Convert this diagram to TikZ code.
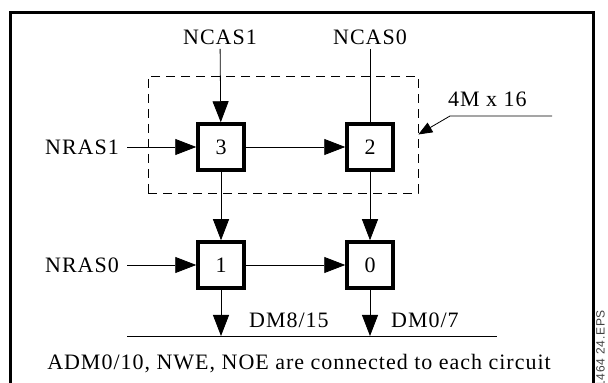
\documentclass[tikz,border=0pt]{standalone}
\usepackage{fontspec}
\setmainfont[LetterSpace=4.5]{Liberation Serif}
\setsansfont[LetterSpace=6]{Liberation Sans}
\usetikzlibrary{arrows.meta, positioning}
\tikzset{chipnode/.style={draw=black, line width=3.5pt, minimum size=46pt, inner sep=0pt, font=\fontsize{22}{26}\selectfont},
  signode/.style={inner sep=6pt, font=\fontsize{22}{26}\selectfont}}

\begin{document}
\begin{tikzpicture}[
        x=1pt, y=1pt,
        line join=miter,
        wire/.style={line width=0.8pt},
        sig/.style={wire, -{Triangle[length=21pt, width=16pt]}},
        tagarrow/.style={wire, -{Triangle[length=14pt, width=11pt]}}
    ]
        \useasboundingbox (0,0) rectangle (608,383);
        % Frame
        \draw[line width=3pt] (10,-10) -- (10,370) -- (593,370) -- (593,-10);
        % Module outline
        \node[draw, dashed, dash pattern=on 9pt off 6pt, line width=0.6pt, minimum width=270pt, minimum height=117pt, inner sep=0pt] (module) at (283,248.5) {};
        % Circuits
        \node[chipnode] (c3) at (221,236) {3};
        \node[chipnode] (c2) at (370,236) {2};
        \node[chipnode] (c1) at (221,118) {1};
        \node[chipnode] (c0) at (370,118) {0};
        % Signals
        \node[signode, anchor=south, inner sep=4pt] (ncas1) at (220,334) {NCAS1};
        \node[signode, anchor=south, inner sep=4pt] (ncas0) at (370,334) {NCAS0};
        \node[signode, anchor=east, inner sep=8pt] (nras1) at (127,236) {NRAS1};
        \node[signode, anchor=east, inner sep=8pt] (nras0) at (127,118) {NRAS0};
        \draw[sig] (ncas1) -- (c3);
        \draw[wire] (ncas0) -- (c2);
        \draw[sig] (nras1) -- (c3);
        \draw[sig] (nras0) -- (c1);
        \draw[sig] (c3) -- (c2);
        \draw[sig] (c1) -- (c0);
        \draw[sig] (c3) -- (c1);
        \draw[sig] (c2) -- (c0);
        % Data bus
        \coordinate (busL) at (127,47);
        \coordinate (busR) at (497,47);
        \draw[wire] (busL) -- (busR);
        \draw[sig] (c1) -- (c1 |- busL);
        \draw[sig] (c0) -- (c0 |- busL);
        \node[signode, anchor=base] (dmhi) at (289,55) {DM8/15};
        \node[signode, anchor=base] (dmlo) at (425,55) {DM0/7};
        % Module size tag
        \node[signode, anchor=base west, inner sep=0pt] (size) at (448,276) {4M x 16};
        \coordinate (tagR) at (552,267);
        \coordinate (tagL) at (450,267);
        \draw[tagarrow] (tagR) -- (tagL) -- (module.east);
        % Note
        \node[signode, anchor=base] (note) at (299,13) {ADM0/10, NWE, NOE are connected to each circuit};
        \node[font=\sffamily\fontsize{12}{13}\selectfont, rotate=90, anchor=north east, inner sep=0pt, text=black!75] (eps) at (596,73) {1464 24.EPS};
    \end{tikzpicture}
\end{document}
